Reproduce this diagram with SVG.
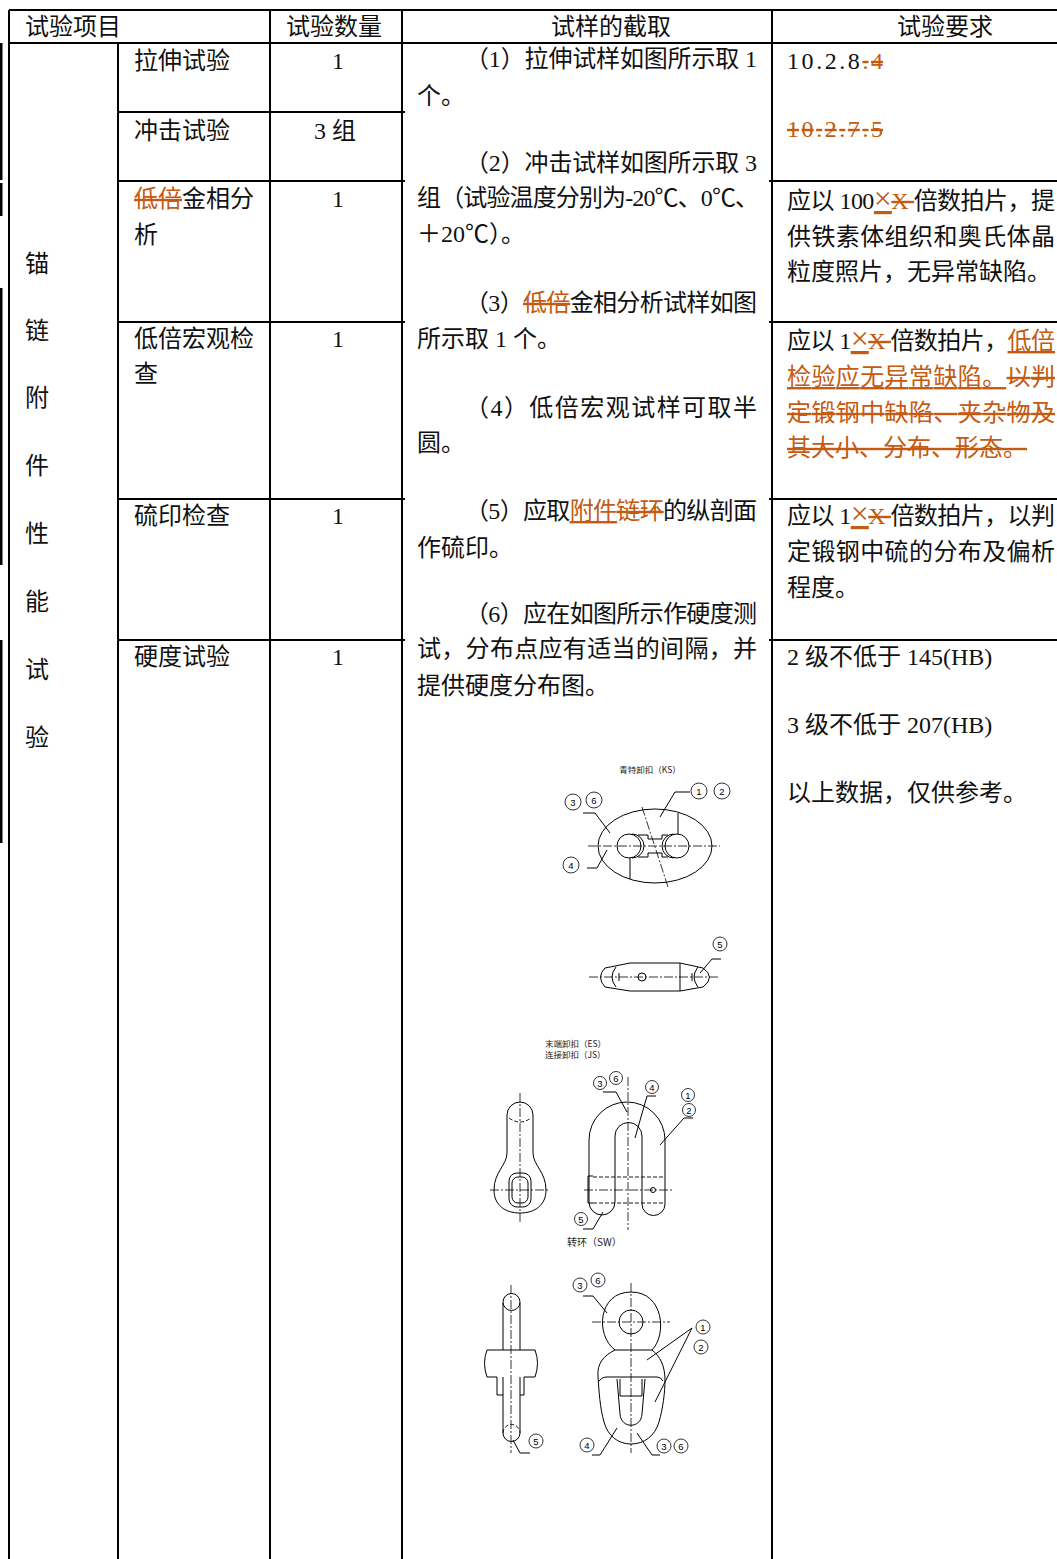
<svg xmlns="http://www.w3.org/2000/svg" width="1057" height="1559" viewBox="0 0 1057 1559">
<style>
.t{font-family:"Liberation Serif","Noto Sans CJK SC",serif;font-size:24px;fill:#111}
.c{text-anchor:middle}
.o{fill:#c55a11}
.s{text-decoration:line-through}
.u{text-decoration:underline}
.x{font-size:32px}
.g{stroke:#000;stroke-width:2;fill:none}
.d{stroke:#000;stroke-width:1;fill:none}
.cl{stroke:#000;stroke-width:0.8;fill:none;stroke-dasharray:9 2 2 2}
.dsh{stroke:#000;stroke-width:0.9;fill:none;stroke-dasharray:4 2}
.n{fill:#fff;stroke:#000;stroke-width:0.8}
.nt{font-family:"Liberation Sans",Arial,sans-serif;font-size:9.5px;text-anchor:middle;fill:#000}
.cap{font-family:"Noto Sans CJK SC",sans-serif;font-size:8.5px;fill:#222}
</style>
<rect width="1057" height="1559" fill="#fff"/>
<g id="margin-bars" fill="#000">
<rect x="0" y="43" width="2.5" height="137"/>
<rect x="0" y="183" width="2.5" height="33"/>
<rect x="0" y="288" width="2.5" height="277"/>
<rect x="0" y="640" width="2.5" height="203"/>
</g>
<g id="grid" class="g">
<path d="M9 10H1057M9 43H1057"/>
<path d="M9 10V1559M118 43V1559M270 10V1559M402 10V1559M772 10V1559"/>
<path d="M118 112H405M118 181H405M118 322H405M118 499H405M118 640H405"/>
<path d="M769 181H1057M769 322H1057M769 499H1057M769 640H1057"/>
</g>
<g id="header" class="t">
<text x="25" y="35">试验项目</text>
<text x="286" y="35">试验数量</text>
<text x="611" y="35" class="c">试样的截取</text>
<text x="945" y="35" class="c">试验要求</text>
</g>
<g id="col-category" class="t">
<text x="25" y="272">锚</text>
<text x="25" y="339">链</text>
<text x="25" y="406">附</text>
<text x="25" y="474">件</text>
<text x="25" y="542">性</text>
<text x="25" y="610">能</text>
<text x="25" y="678">试</text>
<text x="25" y="746">验</text>
</g>
<g id="col-items" class="t">
<text x="134" y="69">拉伸试验</text>
<text x="134" y="139">冲击试验</text>
<text x="134" y="207"><tspan class="o s">低倍</tspan>金相分</text>
<text x="134" y="243">析</text>
<text x="134" y="347">低倍宏观检</text>
<text x="134" y="382">查</text>
<text x="134" y="524">硫印检查</text>
<text x="134" y="665">硬度试验</text>
</g>
<g id="col-qty" class="t c">
<text x="338" y="69">1</text>
<text x="335" y="139">3 组</text>
<text x="338" y="207">1</text>
<text x="338" y="347">1</text>
<text x="338" y="524">1</text>
<text x="338" y="665">1</text>
</g>
<g id="col-sampling" class="t">
<text x="465" y="67" textLength="292" lengthAdjust="spacing">（1）拉伸试样如图所示取 1</text>
<text x="417" y="104">个。</text>
<text x="465" y="171" textLength="292" lengthAdjust="spacing">（2）冲击试样如图所示取 3</text>
<text x="417" y="206" textLength="342" lengthAdjust="spacing">组（试验温度分别为-20℃、0℃、</text>
<text x="417" y="242">＋20℃）。</text>
<text x="465" y="311" textLength="292" lengthAdjust="spacing">（3）<tspan class="o s">低倍</tspan>金相分析试样如图</text>
<text x="417" y="347">所示取 1 个。</text>
<text x="465" y="416" textLength="292" lengthAdjust="spacing">（4）低倍宏观试样可取半</text>
<text x="417" y="451">圆。</text>
<text x="465" y="519" textLength="292" lengthAdjust="spacing">（5）应取<tspan class="o u">附件</tspan><tspan class="o s">链环</tspan>的纵剖面</text>
<text x="417" y="556">作硫印。</text>
<text x="465" y="622" textLength="292" lengthAdjust="spacing">（6）应在如图所示作硬度测</text>
<text x="417" y="657" textLength="340" lengthAdjust="spacing">试，分布点应有适当的间隔，并</text>
<text x="417" y="694">提供硬度分布图。</text>
</g>
<g id="col-requirements" class="t">
<text x="787" y="69" textLength="96" lengthAdjust="spacing">10.2.8<tspan class="o s">.4</tspan></text>
<text x="787" y="137" textLength="96" lengthAdjust="spacing" class="o s">10.2.7.5</text>
<text x="787" y="209" textLength="268" lengthAdjust="spacing">应以 100<tspan class="o u x">×</tspan><tspan class="o s">X </tspan>倍数拍片，提</text>
<text x="787" y="245" textLength="268" lengthAdjust="spacing">供铁素体组织和奥氏体晶</text>
<text x="787" y="280">粒度照片，无异常缺陷。</text>
<text x="787" y="349" textLength="268" lengthAdjust="spacing">应以 1<tspan class="o u x">×</tspan><tspan class="o s">X </tspan>倍数拍片，<tspan class="o u">低倍</tspan></text>
<text x="787" y="385" textLength="268" lengthAdjust="spacing"><tspan class="o u">检验应无异常缺陷。</tspan><tspan class="o s">以判</tspan></text>
<text x="787" y="421" textLength="268" lengthAdjust="spacing" class="o s">定锻钢中缺陷、夹杂物及</text>
<text x="787" y="456" class="o s">其大小、分布、形态。</text>
<text x="787" y="524" textLength="268" lengthAdjust="spacing">应以 1<tspan class="o u x">×</tspan><tspan class="o s">X </tspan>倍数拍片，以判</text>
<text x="787" y="560" textLength="268" lengthAdjust="spacing">定锻钢中硫的分布及偏析</text>
<text x="787" y="596">程度。</text>
<text x="787" y="665">2 级不低于 145(HB)</text>
<text x="787" y="733">3 级不低于 207(HB)</text>
<text x="787" y="801">以上数据，仅供参考。</text>
</g>
<g id="drawing-ks">
<text x="650" y="773" class="cap" text-anchor="middle">青特卸扣（KS）</text>
<ellipse cx="655" cy="846" rx="57" ry="37" class="d"/>
<circle cx="629" cy="846" r="12" class="d"/>
<path d="M632 834A12 12 0 0 1 632 858" class="d"/>
<circle cx="677" cy="846" r="12" class="d"/>
<path d="M674 834A12 12 0 0 0 674 858" class="d"/>
<path d="M638 835H648V839H662V835H668M638 857H648V853H662V857H668M678 813V834M630 858V879" class="d"/>
<path d="M588 846H720M642 807L668 887" class="cl"/>
</g>
<g id="drawing-ks-side">
<path d="M630 963H680M630 991H680M680 963V991M630 963L605 968Q596 977 605 987L630 991M680 963L703 968Q716 977 703 987L680 991" class="d"/>
<path d="M616 967Q608 977 616 987M698 967Q690 977 698 987M619 973V981M692 973V981" class="d"/>
<circle cx="642" cy="977" r="4" class="d"/>
<path d="M589 977H720" class="cl"/>
</g>
<g id="drawing-es">
<text x="545" y="1047" class="cap">末端卸扣（ES）</text>
<text x="545" y="1058" class="cap">连接卸扣（JS）</text>
<path d="M507 1115A13 13 0 0 1 533 1115V1153C533 1165 546 1172 546 1190C546 1205 535 1213 520 1213C505 1213 494 1205 494 1190C494 1172 507 1165 507 1153Z" class="d"/>
<rect x="509" y="1173" width="22" height="34" rx="8" class="d"/>
<rect x="512" y="1177" width="16" height="26" rx="6" class="d"/>
<path d="M509 1118Q520 1126 531 1118" class="dsh"/>
<path d="M520 1093V1222M490 1190H550" class="cl"/>
<path d="M589 1140A38 38 0 0 1 665 1140V1204A11.5 11.5 0 0 1 642 1204V1136A13.5 13.5 0 0 0 615 1136V1202A13 13 0 0 1 589 1202Z" class="d"/>
<path d="M593 1177H665M593 1203H665" class="dsh"/>
<path d="M593 1176H588V1203H593" class="d"/>
<circle cx="653" cy="1190" r="2.5" class="d"/>
<path d="M628 1077V1230M584 1190H673" class="cl"/>
<text x="567" y="1246" class="cap" style="font-size:10px">转环（SW）</text>
</g>
<g id="drawing-sw">
<circle cx="511.5" cy="1302" r="8.5" class="d"/>
<path d="M503 1303V1350M520 1303V1350M487 1350H535M487 1350Q482 1363 487 1377M535 1350Q540 1363 535 1377M487 1377H497M524 1377H535M497 1377V1395H503M524 1377V1395H520M503 1377V1433M520 1377V1433M503 1433A8.5 8.5 0 0 0 520 1433" class="d"/>
<path d="M503 1433A8.5 8.5 0 0 1 520 1433" class="dsh"/>
<path d="M511 1285V1453" class="cl"/>
<path d="M615 1350C595 1335 598 1292 631 1292C664 1292 667 1335 652 1350Z" class="d"/>
<circle cx="631" cy="1322" r="12" class="d"/>
<path d="M615 1350C603 1356 597 1364 598 1376C599 1392 600 1408 604 1422C608 1436 618 1444 631 1444C644 1444 655 1436 659 1422C663 1408 665 1392 665 1380C665 1366 660 1356 652 1350" class="d"/>
<path d="M599 1381Q602 1377 606 1377H657Q661 1377 663 1381" class="d"/>
<path d="M617 1379L620 1414C621 1429 641 1429 642 1414L645 1379M620 1379V1396H642V1379" class="d"/>
<path d="M592 1322H670M631 1283V1453" class="cl"/>
</g>
<g id="connectors" class="d">
<path d="M660 817L675 792H690M583 813H595L610 833M587 868H597L607 850"/>
<path d="M700 973L712 959H721"/>
<path d="M603 1092H616L627 1112M656 1096H647L635 1138M693 1118H684L660 1145M583 1229H593L603 1212"/>
<path d="M513 1440L520 1453H530M692 1328L647 1360M692 1328L655 1402M583 1296H593L607 1313M592 1455H600L617 1428M637 1433L652 1455H660"/>
</g>
<g id="callouts">
<circle cx="699" cy="791" r="8" class="n"/><text x="699" y="794.5" class="nt">1</text>
<circle cx="722" cy="791" r="8" class="n"/><text x="722" y="794.5" class="nt">2</text>
<circle cx="573" cy="802" r="8" class="n"/><text x="573" y="805.5" class="nt">3</text>
<circle cx="594" cy="800" r="8" class="n"/><text x="594" y="803.5" class="nt">6</text>
<circle cx="571" cy="865" r="8" class="n"/><text x="571" y="868.5" class="nt">4</text>
<circle cx="720" cy="944" r="7" class="n"/><text x="720" y="947.5" class="nt">5</text>
<circle cx="600" cy="1083" r="6.5" class="n"/><text x="600" y="1086.5" class="nt">3</text>
<circle cx="616" cy="1078" r="6.5" class="n"/><text x="616" y="1081.5" class="nt">6</text>
<circle cx="652" cy="1087" r="6.5" class="n"/><text x="652" y="1090.5" class="nt">4</text>
<circle cx="688" cy="1095" r="6.5" class="n"/><text x="688" y="1098.5" class="nt">1</text>
<circle cx="689" cy="1110" r="6.5" class="n"/><text x="689" y="1113.5" class="nt">2</text>
<circle cx="581" cy="1219" r="6.5" class="n"/><text x="581" y="1222.5" class="nt">5</text>
<circle cx="536" cy="1441" r="7" class="n"/><text x="536" y="1444.5" class="nt">5</text>
<circle cx="703" cy="1327" r="7" class="n"/><text x="703" y="1330.5" class="nt">1</text>
<circle cx="701" cy="1347" r="7" class="n"/><text x="701" y="1350.5" class="nt">2</text>
<circle cx="580" cy="1285" r="7" class="n"/><text x="580" y="1288.5" class="nt">3</text>
<circle cx="598" cy="1280" r="7" class="n"/><text x="598" y="1283.5" class="nt">6</text>
<circle cx="587" cy="1445" r="7" class="n"/><text x="587" y="1448.5" class="nt">4</text>
<circle cx="664" cy="1446" r="7" class="n"/><text x="664" y="1449.5" class="nt">3</text>
<circle cx="681" cy="1446" r="7" class="n"/><text x="681" y="1449.5" class="nt">6</text>
</g>
</svg>
